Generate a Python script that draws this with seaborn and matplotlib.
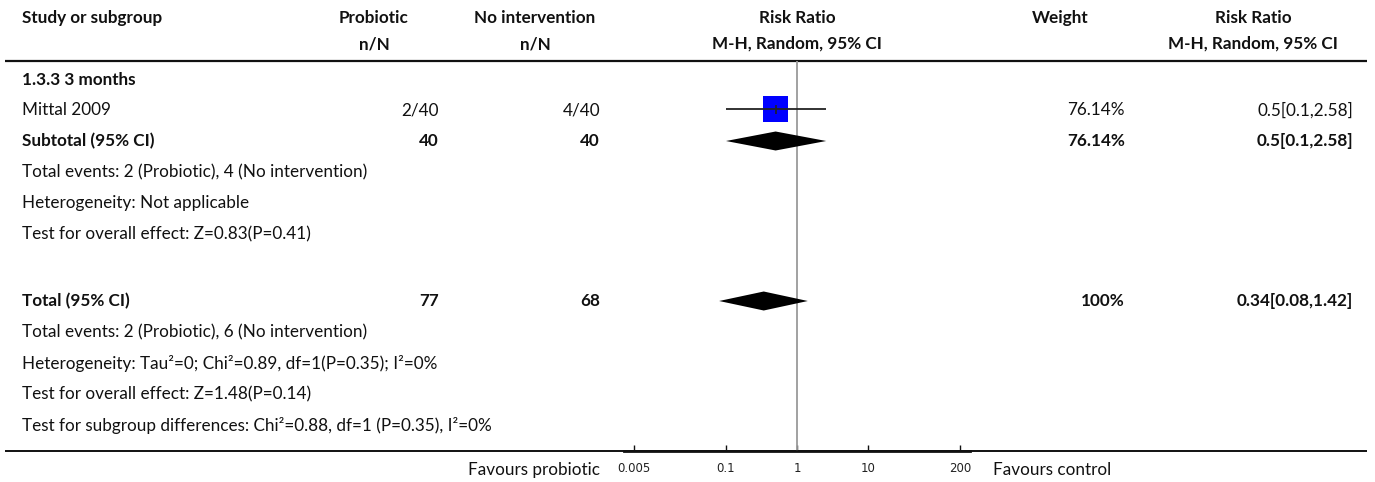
import matplotlib
matplotlib.use("Agg")
import matplotlib.pyplot as plt
import seaborn as sns

# ---- data -------------------------------------------------------------
studies = ["Mittal 2009"]
probiotic_events = ["2/40"]
control_events = ["4/40"]
study_rr = [0.5]
study_lo = [0.1]
study_hi = [2.58]
study_weight = ["76.14%"]

subgroup_title = "1.3.3 3 months"
subtotal_n = [40, 40]
subtotal_rr = [0.5, 0.1, 2.58]
subtotal_weight = "76.14%"
subtotal_notes = [
    "Total events: 2 (Probiotic), 4 (No intervention)",
    "Heterogeneity: Not applicable",
    "Test for overall effect: Z=0.83(P=0.41)",
]

total_n = [77, 68]
total_rr = [0.34, 0.08, 1.42]
total_weight = "100%"
total_notes = [
    "Total events: 2 (Probiotic), 6 (No intervention)",
    "Heterogeneity: Tau\u00b2=0; Chi\u00b2=0.89, df=1(P=0.35); I\u00b2=0%",
    "Test for overall effect: Z=1.48(P=0.14)",
    "Test for subgroup differences: Chi\u00b2=0.88, df=1 (P=0.35), I\u00b2=0%",
]

tick_values = [0.005, 0.1, 1, 10, 200]
tick_labels = ["0.005", "0.1", "1", "10", "200"]

# ---- style --------------------------------------------------------------
sns.set_theme(style="white")
plt.rcParams["font.family"] = ["Lato", "DejaVu Sans"]
FS = 12.3
INK = "#111111"

W, H = 1375, 482
fig = plt.figure(figsize=(W / 100, H / 100), dpi=100)

# table layer in pixel coordinates
tab = fig.add_axes([0, 0, 1, 1])
tab.set_xlim(0, W)
tab.set_ylim(H, 0)
tab.axis("off")

# row layout (pixel y of each line)
HEAD1, HEAD2, RULE_TOP, RULE_BOT = 18, 44, 61, 451
rows = [80, 110, 141, 172, 203, 234, 301, 332, 363, 394, 425]

# column layout
X_STUDY = 22
X_PROB_C, X_PROB_R = 374, 439
X_CTRL_C, X_CTRL_R = 535, 600
X_PLOT_C = 797
X_WT_C, X_WT_R = 1060, 1125
X_RR_C, X_RR_R = 1253, 1353


def txt(x, y, s, ha="left", bold=False):
    tab.text(x, y, s, ha=ha, va="center", fontsize=FS, color=INK,
             fontweight="bold" if bold else "normal")


# header
txt(X_STUDY, HEAD1, "Study or subgroup", bold=True)
txt(X_PROB_C, HEAD1, "Probiotic", "center", True)
txt(X_PROB_C, HEAD2, "n/N", "center", True)
txt(X_CTRL_C, HEAD1, "No intervention", "center", True)
txt(X_CTRL_C, HEAD2, "n/N", "center", True)
txt(X_PLOT_C, HEAD1, "Risk Ratio", "center", True)
txt(X_PLOT_C, HEAD2, "M-H, Random, 95% CI", "center", True)
txt(X_WT_C, HEAD1, "Weight", "center", True)
txt(X_RR_C, HEAD1, "Risk Ratio", "center", True)
txt(X_RR_C, HEAD2, "M-H, Random, 95% CI", "center", True)
tab.plot([5, 1367], [RULE_TOP, RULE_TOP], color=INK, lw=1.6, solid_capstyle="butt")
tab.plot([5, 1367], [RULE_BOT, RULE_BOT], color=INK, lw=1.4, solid_capstyle="butt")


def fmt_rr(v):
    return f"{v[0]:g}[{v[1]:g},{v[2]:g}]"


# subgroup block
txt(X_STUDY, rows[0], subgroup_title, bold=True)
for i, name in enumerate(studies):
    y = rows[1 + i]
    txt(X_STUDY, y, name)
    txt(X_PROB_R, y, probiotic_events[i], "right")
    txt(X_CTRL_R, y, control_events[i], "right")
    txt(X_WT_R, y, study_weight[i], "right")
    txt(X_RR_R, y, fmt_rr([study_rr[i], study_lo[i], study_hi[i]]), "right")

txt(X_STUDY, rows[2], "Subtotal (95% CI)", bold=True)
txt(X_PROB_R, rows[2], str(subtotal_n[0]), "right", True)
txt(X_CTRL_R, rows[2], str(subtotal_n[1]), "right", True)
txt(X_WT_R, rows[2], subtotal_weight, "right", True)
txt(X_RR_R, rows[2], fmt_rr(subtotal_rr), "right", True)
for k, note in enumerate(subtotal_notes):
    txt(X_STUDY, rows[3 + k], note)

# overall block
txt(X_STUDY, rows[6], "Total (95% CI)", bold=True)
txt(X_PROB_R, rows[6], str(total_n[0]), "right", True)
txt(X_CTRL_R, rows[6], str(total_n[1]), "right", True)
txt(X_WT_R, rows[6], total_weight, "right", True)
txt(X_RR_R, rows[6], fmt_rr(total_rr), "right", True)
for k, note in enumerate(total_notes):
    txt(X_STUDY, rows[7 + k], note)

# ---- forest panel (log risk-ratio axis) ---------------------------------
PX_PER_DECADE = 71.0
HALF_DEC = 2.43
left_px = X_PLOT_C - HALF_DEC * PX_PER_DECADE
width_px = 2 * HALF_DEC * PX_PER_DECADE
ax = fig.add_axes([left_px / W, (H - RULE_BOT) / H, width_px / W,
                   (RULE_BOT - RULE_TOP) / H])
ax.patch.set_alpha(0)
ax.set_xscale("log")
ax.set_xlim(10 ** -HALF_DEC, 10 ** HALF_DEC)
ax.set_ylim(RULE_BOT, RULE_TOP)
for side in ("top", "left", "right"):
    ax.spines[side].set_visible(False)
ax.spines["bottom"].set_color(INK)
ax.spines["bottom"].set_linewidth(2.0)
ax.set_yticks([])
ax.set_xticks(tick_values)
ax.set_xticklabels(tick_labels, family="DejaVu Sans", fontsize=8.5, color="#222222")
ax.minorticks_off()
ax.tick_params(axis="x", direction="in", length=4.5, width=1.0, color=INK, pad=8,
               bottom=True)
ax.grid(False)

# line of no effect
ax.axvline(1, color="#9a9a9a", lw=1.3, zorder=1)

# individual study: weighted square with CI whisker
for i in range(len(studies)):
    y = rows[1 + i] - 1
    sns.scatterplot(x=[study_rr[i]], y=[y], marker="s", s=330, color="#0000ff",
                    edgecolor="none", linewidth=0, ax=ax, zorder=3, legend=False)
    ax.hlines(y, study_lo[i], study_hi[i], color="#222222", lw=1.3, zorder=4)
    ax.vlines(study_rr[i], y - 4.5, y + 4.5, color="#222222", lw=1.2, zorder=4)


def diamond(vals, y, half=9.5):
    rr, lo, hi = vals
    ax.fill([lo, rr, hi, rr], [y, y - half, y, y + half], color="black",
            lw=0, zorder=3)


diamond(subtotal_rr, rows[2])
diamond(total_rr, rows[6])
ax.set_xlabel("")
ax.set_ylabel("")

# direction labels under the axis
txt(600, 470, "Favours probiotic", "right")
txt(993, 470, "Favours control", "left")

fig.savefig("out.png", dpi=100)
